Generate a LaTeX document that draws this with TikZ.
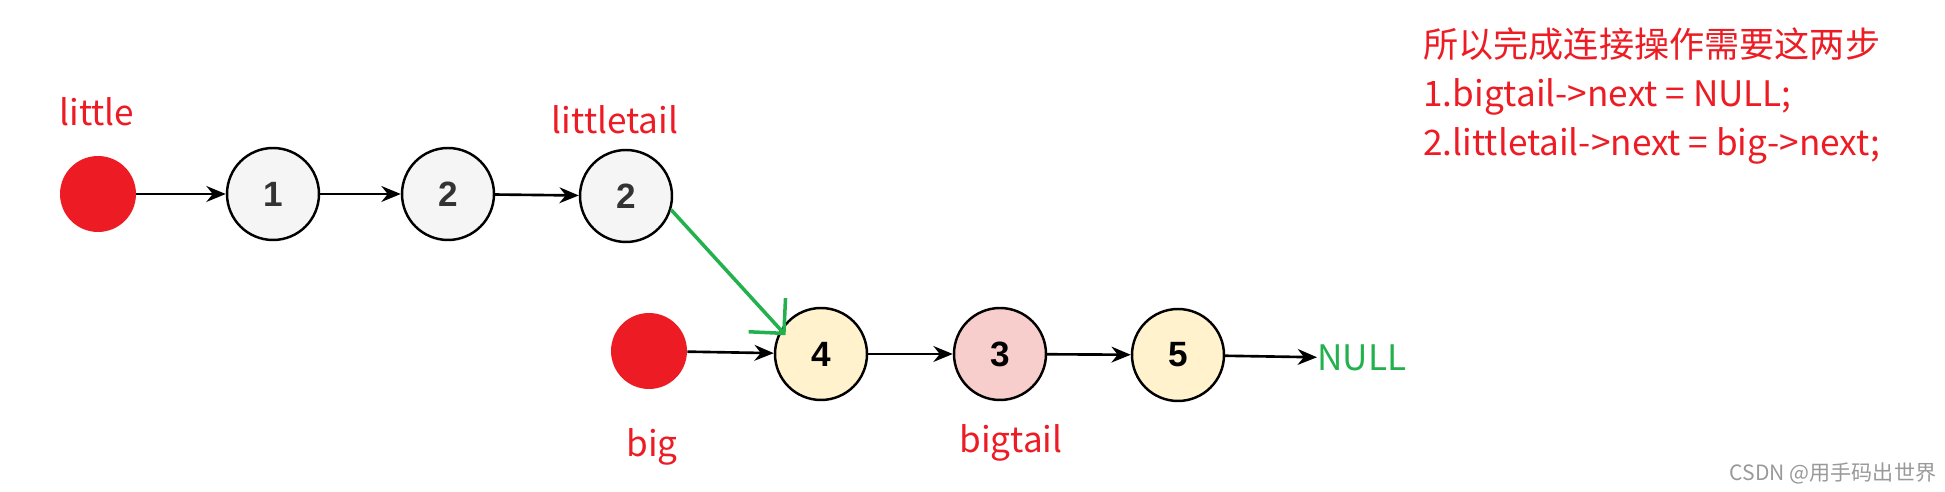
\documentclass[tikz,border=0pt]{standalone}
\usepackage{fontspec}
\newfontfamily\cjk{Noto Sans CJK SC}
\newfontfamily\numfont{Liberation Sans}
\usetikzlibrary{arrows.meta, positioning}
\definecolor{markred}{HTML}{ED1C24}
\definecolor{markgreen}{HTML}{22B14C}
\definecolor{nodegray}{HTML}{F5F5F5}
\definecolor{nodeyellow}{HTML}{FFF2CC}
\definecolor{nodepink}{HTML}{F8CECC}
\definecolor{numgray}{HTML}{333333}
\tikzset{
  listnode/.style={circle, draw=black, line width=1.4pt, minimum size=1.84cm, inner sep=0pt,
    font=\numfont\bfseries\fontsize{20}{24}\selectfont},
  headdot/.style={circle, fill=markred, minimum size=1.52cm, inner sep=0pt},
  redlabel/.style={text=markred, font=\cjk\fontsize{20}{24}\selectfont, inner sep=0pt},
  nextarrow/.style={-{Stealth[length=11pt, width=9pt]}, line width=1.5pt},
}

\begin{document}
\begin{tikzpicture}[x=0.02cm, y=-0.02cm]
    \useasboundingbox (0,0) rectangle (1945,492);

    % --- little list ---
    \node[headdot] (little) at (98,194) {};
    \node[listnode, fill=nodegray, text=numgray] (l1) at (273,194) {1};
    \node[listnode, fill=nodegray, text=numgray] (l2) at (448,194) {2};
    \node[listnode, fill=nodegray, text=numgray] (ltail) at (626,196) {2};
    \node[redlabel] (little_lbl) at (97,112) {little};
    \node[redlabel] (ltail_lbl) at (615,120) {littletail};

    \draw[nextarrow] (little) -- (l1);
    \draw[nextarrow] (l1) -- (l2);
    \draw[nextarrow] (l2) -- (ltail);

    % --- big list ---
    \node[headdot] (big) at (649,351) {};
    \node[listnode, fill=nodeyellow] (b4) at (821,354) {4};
    \node[listnode, fill=nodepink] (btail) at (1000,354) {3};
    \node[listnode, fill=nodeyellow] (b5) at (1178,355) {5};
    \node[text=markgreen, font=\cjk\fontsize{20}{24}\selectfont, inner sep=0pt, anchor=west] (null) at (1317,358) {NULL};
    \node[redlabel] (big_lbl) at (652,447) {big};
    \node[redlabel] (btail_lbl) at (1011,443) {bigtail};

    \draw[nextarrow] (big) -- (b4);
    \draw[nextarrow] (b4) -- (btail);
    \draw[nextarrow] (btail) -- (b5);
    \draw[nextarrow] (b5) -- (null);

    % --- new link (hand drawn) ---
    \draw[markgreen, line width=2pt, -{Straight Barb[length=0.5cm, width=1.0cm]}, shorten >=-0.15cm]
        (ltail.-17) -- (b4.149);

    % --- steps ---
    \node[redlabel, anchor=west] (step0) at (1423,44) {所以完成连接操作需要这两步};
    \node[redlabel, anchor=west] (step1) at (1423,97) {1.bigtail->next = NULL;};
    \node[redlabel, anchor=west] (step2) at (1423,146) {2.littletail->next = big->next;};

    % --- watermark ---
    \node[text=black!40, font=\cjk\fontsize{12}{14}\selectfont, inner sep=0pt] (mark) at (1833,473) {CSDN @用手码出世界};
\end{tikzpicture}
\end{document}
